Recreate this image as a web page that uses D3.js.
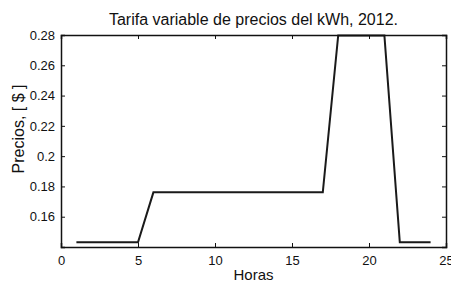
<!DOCTYPE html>
<html>
    <head>
        <title>Tarifa variable</title>
        <style>
            body, html { margin: 0; padding: 0; background: #fff; }
            svg { display: block; }
            text { font-family: "Liberation Sans", Arial, sans-serif; fill: #111; }
        </style>
    </head>
    <body>

        <svg id="svg" width="451" height="281"></svg>

        <script src="https://d3js.org/d3.v7.min.js"></script>
        <script>
            // hourly price, one value per hour 1..24
            const hours = [1, 2, 3, 4, 5, 6, 7, 8, 9, 10, 11, 12, 13, 14, 15, 16, 17, 18, 19, 20, 21, 22, 23, 24]
            const prices = [0.1431, 0.1431, 0.1431, 0.1431, 0.1431,
                            0.1761, 0.1761, 0.1761, 0.1761, 0.1761, 0.1761, 0.1761, 0.1761, 0.1761, 0.1761, 0.1761, 0.1761,
                            0.2797, 0.2797, 0.2797, 0.2797,
                            0.1431, 0.1431, 0.1431]
            const xTicks = [0, 5, 10, 15, 20, 25]
            const yTicks = [0.16, 0.18, 0.2, 0.22, 0.24, 0.26, 0.28]

            const margin = { top: 35, right: 5, bottom: 34, left: 61 }
            const width = 451 - margin.left - margin.right
            const height = 281 - margin.top - margin.bottom

            const svg = d3.select('#svg')
            const g = svg.append('g').attr('transform', `translate(${margin.left},${margin.top})`)

            const xscale = d3.scaleLinear().domain([0, 25]).range([0, width])
            const yscale = d3.scaleLinear().domain([0.14, 0.28]).range([height, 0])

            const data = hours.map((h, i) => ({ h: h, p: prices[i] }))

            // the line
            g.append('path')
                .datum(data)
                .attr('fill', 'none')
                .attr('stroke', '#1a1a1a')
                .attr('stroke-width', 2)
                .attr('d', d3.line().x(d => xscale(d.h)).y(d => yscale(d.p)))

            // axes, ticks pointing inward like matlab
            const fmt = d => String(d)
            const axBottom = g.append('g').attr('transform', `translate(0,${height})`)
                .call(d3.axisBottom(xscale).tickValues(xTicks).tickFormat(fmt).tickSize(-4).tickPadding(9))
            const axLeft = g.append('g')
                .call(d3.axisLeft(yscale).tickValues(yTicks).tickFormat(fmt).tickSize(-4).tickPadding(6))
            const axTop = g.append('g')
                .call(d3.axisTop(xscale).tickValues(xTicks).tickFormat('').tickSize(-4))
            const axRight = g.append('g').attr('transform', `translate(${width},0)`)
                .call(d3.axisRight(yscale).tickValues(yTicks).tickFormat('').tickSize(-4))

            ;[axBottom, axLeft, axTop, axRight].forEach(a => {
                a.select('.domain').attr('stroke', '#111').attr('stroke-width', 1.5)
                a.selectAll('.tick line').attr('stroke', '#111')
                a.selectAll('text').attr('font-size', 13).attr('fill', '#111')
                    .attr('font-family', '"Liberation Sans", Arial, sans-serif')
            })

            // title and labels
            svg.append('text')
                .attr('x', margin.left + width / 2)
                .attr('y', 25)
                .attr('text-anchor', 'middle')
                .attr('font-size', 16)
                .text('Tarifa variable de precios del kWh, 2012.')

            svg.append('text')
                .attr('x', margin.left + width / 2)
                .attr('y', 280)
                .attr('text-anchor', 'middle')
                .attr('font-size', 15)
                .text('Horas')

            svg.append('text')
                .attr('transform', `translate(24,${margin.top + height / 2 - 12}) rotate(-90)`)
                .attr('text-anchor', 'middle')
                .attr('font-size', 16)
                .text('Precios, [ $ ]')
        </script>
    </body>
</html>
